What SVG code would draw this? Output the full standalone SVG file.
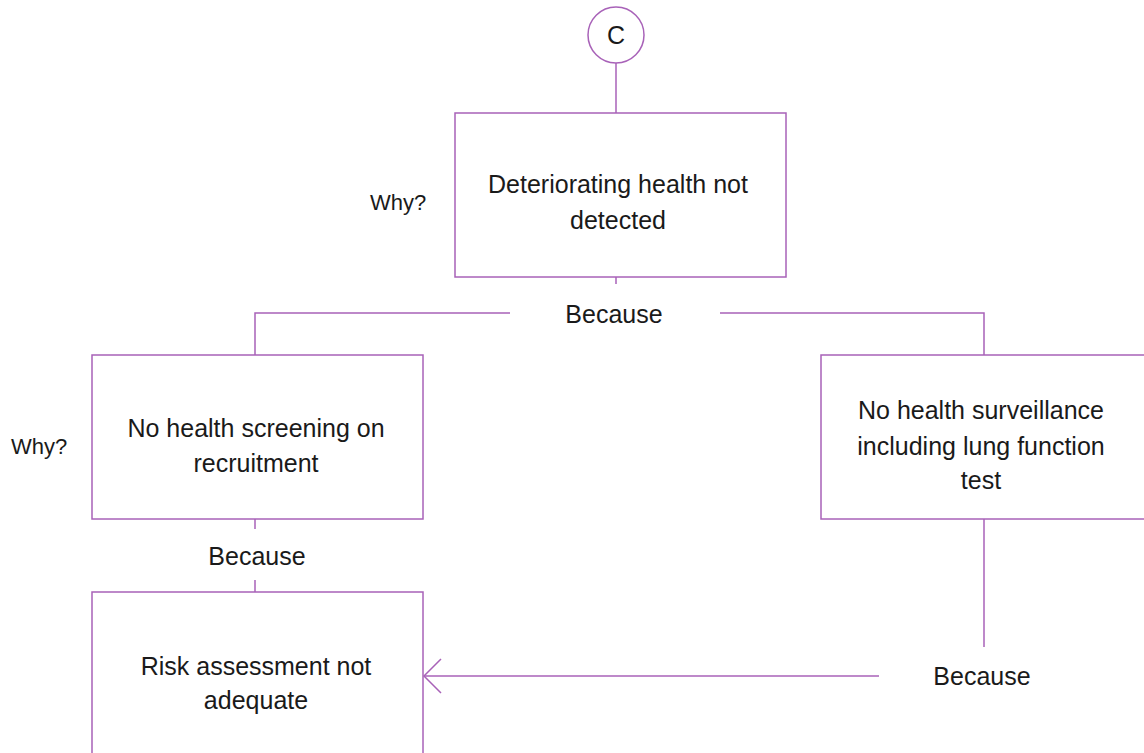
<svg xmlns="http://www.w3.org/2000/svg" width="1144" height="753" viewBox="0 0 1144 753">
<style>
.box{fill:#fff;stroke:#A862B8;stroke-width:1.5}
.ln{fill:none;stroke:#A862B8;stroke-width:1.5}
.t{font-family:"Liberation Sans",Arial,sans-serif;font-size:25px;fill:#1a1a1a;text-anchor:middle}
.w{font-family:"Liberation Sans",Arial,sans-serif;font-size:22px;fill:#1a1a1a;text-anchor:middle}
</style>
<rect width="1144" height="753" fill="#fff"/>
<g id="connectors">
<line class="ln" x1="616" y1="63" x2="616" y2="113"/>
<line class="ln" x1="616" y1="277" x2="616" y2="284"/>
<polyline class="ln" points="510,313 255,313 255,355"/>
<polyline class="ln" points="720,313 984,313 984,355"/>
<line class="ln" x1="255" y1="519" x2="255" y2="529"/>
<line class="ln" x1="255" y1="580" x2="255" y2="592"/>
<line class="ln" x1="984" y1="519" x2="984" y2="647"/>
<line class="ln" x1="879" y1="676" x2="424" y2="676"/>
<polyline class="ln" points="441,659 424,676 441,693"/>
</g>
<g id="nodeC">
<circle class="box" cx="616" cy="35" r="28"/>
<text class="t" x="616" y="44">C</text>
</g>
<g id="node1">
<rect class="box" x="455" y="113" width="331" height="164"/>
<text class="t" x="618" y="193">Deteriorating health not</text>
<text class="t" x="618" y="229">detected</text>
</g>
<g id="why1"><text class="w" x="398" y="210">Why?</text></g>
<g id="because1"><text class="t" x="614" y="323">Because</text></g>
<g id="node2">
<rect class="box" x="92" y="355" width="331" height="164"/>
<text class="t" x="256" y="437">No health screening on</text>
<text class="t" x="256" y="472">recruitment</text>
</g>
<g id="why2"><text class="w" x="39" y="454">Why?</text></g>
<g id="node3">
<rect class="box" x="821" y="355" width="331" height="164"/>
<text class="t" x="981" y="419">No health surveillance</text>
<text class="t" x="981" y="455">including lung function</text>
<text class="t" x="981" y="489">test</text>
</g>
<g id="because2"><text class="t" x="257" y="565">Because</text></g>
<g id="because3"><text class="t" x="982" y="685">Because</text></g>
<g id="node4">
<rect class="box" x="92" y="592" width="331" height="175"/>
<text class="t" x="256" y="675">Risk assessment not</text>
<text class="t" x="256" y="709">adequate</text>
</g>
</svg>
